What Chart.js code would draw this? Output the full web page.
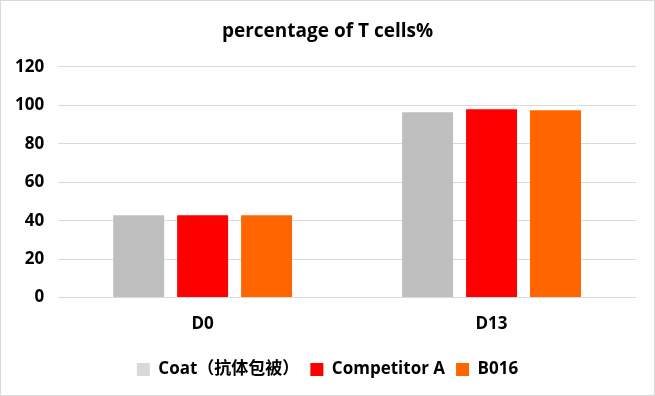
<!DOCTYPE html>
<html>
<head>
<meta charset="utf-8">
<script src="https://cdn.jsdelivr.net/npm/chart.js@4"></script>
<style>
    html, body { margin: 0; padding: 0; background: #fff; }
    #wrap {
        position: relative;
        width: 653px;
        height: 394px;
        border: 1px solid #d9d9d9;
    }
</style>
</head>
<body>
<div id="wrap"><canvas id="chart"></canvas></div>
<script>
// Data
const categories = ['D0', 'D13'];
const seriesNames = ['Coat（抗体包被）', 'Competitor A', 'B016'];
const coatValues = [42.8, 96.4];
const competitorValues = [42.8, 97.9];
const b016Values = [42.8, 97.4];
const yTicks = [0, 20, 40, 60, 80, 100, 120];

// Colors
const barColors = ['#bfbfbf', '#ff0000', '#ff6600'];
const legendColors = ['#d9d9d9', '#ff0000', '#ff6600'];

const fontFamily = "'Open Sans', 'Noto Sans', 'Noto Sans CJK SC', sans-serif";

const ctx = document.getElementById('chart').getContext('2d');

new Chart(ctx, {
    type: 'bar',
    data: {
        labels: categories,
        datasets: [coatValues, competitorValues, b016Values].map((vals, i) => ({
            label: seriesNames[i],
            data: vals,
            backgroundColor: barColors[i],
            borderWidth: 0,
            barPercentage: 0.797,
            categoryPercentage: 0.664
        }))
    },
    options: {
        responsive: true,
        maintainAspectRatio: false,
        animation: false,
        layout: {
            padding: { left: 0, right: 0, top: 0, bottom: 7 }
        },
        plugins: {
            title: {
                display: true,
                text: 'percentage of T cells%',
                color: '#000',
                font: { family: fontFamily, size: 19, weight: 'bold' },
                padding: { top: 19, bottom: 24 }
            },
            legend: {
                position: 'bottom',
                labels: {
                    color: '#000',
                    font: { family: fontFamily, size: 17, weight: 'bold' },
                    boxWidth: 13,
                    boxHeight: 13,
                    padding: 11,
                    generateLabels: (chart) => chart.data.datasets.map((ds, i) => ({
                        text: ds.label,
                        fillStyle: legendColors[i],
                        strokeStyle: legendColors[i],
                        lineWidth: 0,
                        datasetIndex: i
                    }))
                }
            },
            tooltip: { enabled: false }
        },
        scales: {
            x: {
                grid: { display: false },
                border: { display: false },
                afterFit: (axis) => {
                    // leave room between category labels and legend
                    axis.height += 8;
                },
                ticks: {
                    color: '#000',
                    padding: 8,
                    font: { family: fontFamily, size: 17, weight: 'bold' }
                }
            },
            y: {
                min: 0,
                max: 120,
                afterBuildTicks: (axis) => {
                    axis.ticks = yTicks.map(v => ({ value: v }));
                },
                grid: { color: '#d9d9d9', lineWidth: 1, drawTicks: false },
                border: { display: false },
                ticks: {
                    color: '#000',
                    padding: 14,
                    font: { family: fontFamily, size: 17, weight: 'bold' }
                }
            },
            // empty right axis: only keeps a gap right of the plot
            yRight: {
                position: 'right',
                min: 0,
                max: 120,
                grid: { display: false },
                border: { display: false },
                ticks: { display: false },
                afterFit: (axis) => {
                    axis.width = 18;
                }
            }
        }
    }
});
</script>
</body>
</html>
